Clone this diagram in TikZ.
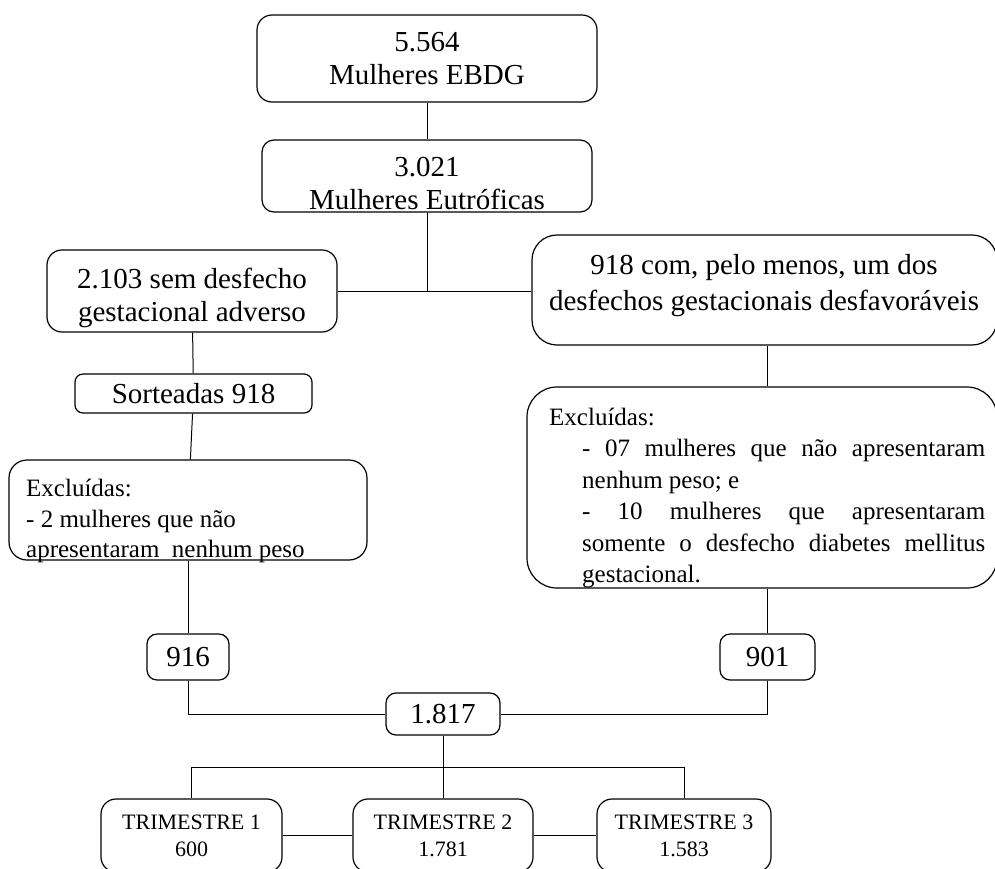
\documentclass[tikz,border=0pt]{standalone}
\usepackage{fontspec}
\setmainfont{Liberation Serif}
\begin{document}
\begin{tikzpicture}[x=1pt, y=-1pt,
    box/.style={draw, line width=1.2pt, rounded corners=12pt, inner sep=0pt, align=center},
    big/.style={font=\fontsize{29}{33}\selectfont},
    small/.style={font=\fontsize{25}{30.5}\selectfont},
    tri/.style={font=\fontsize{22}{27}\selectfont},
    txt/.style={inner sep=0pt},
    link/.style={line width=1pt}]
    \useasboundingbox (0,0) rectangle (995,868);
    % top of the flow
    \node (ebdg) at (427,58.5) [box, big, rounded corners=15pt, minimum width=340pt, minimum height=87pt] {5.564\\Mulheres EBDG};
    \node (eutro) at (427,176) [box, minimum width=330pt, minimum height=72pt] {};
    \node (eutrotxt) at (427,183.7) [txt, big, align=center] {3.021\\Mulheres Eutróficas};
    % left branch
    \node (semdesf) at (192,291) [box, rounded corners=15pt, minimum width=290pt, minimum height=82pt] {};
    \node (semdesftxt) at (192,297.5) [txt, big, align=center] {2.103 sem desfecho\\gestacional adverso};
    \node (sorteio) at (193.5,393.5) [box, big, rounded corners=8pt, minimum width=237pt, minimum height=39pt] {Sorteadas 918};
    \node (exclA) at (188,510) [box, rounded corners=18pt, minimum width=358pt, minimum height=100pt] {};
    \node (exclAtxt) at (26,479) [txt, small, align=left, anchor=north west] {Excluídas:\\- 2 mulheres que não\\apresentaram~ nenhum peso};
    % right branch
    \node (comdesf) at (764.5,290) [box, rounded corners=25pt, minimum width=465pt, minimum height=110pt] {};
    \node (comdesftxt) at (764,285.3) [txt, font=\fontsize{29}{36}\selectfont, align=center] {918 com, pelo menos, um dos\\desfechos gestacionais desfavoráveis};
    \node (exclB) at (762,487.5) [box, rounded corners=30pt, minimum width=470pt, minimum height=201pt] {};
    \node (exclBtxt) at (549,408) [txt, font=\fontsize{25}{31.4}\selectfont, align=left, anchor=north west] {Excluídas:\\
        \hspace*{33pt}\makebox[403pt][s]{- 07 mulheres que não apresentaram}\\
        \hspace*{33pt}nenhum peso; e\\
        \hspace*{33pt}\makebox[403pt][s]{- 10 mulheres que apresentaram}\\
        \hspace*{33pt}\makebox[403pt][s]{somente o desfecho diabetes mellitus}\\
        \hspace*{33pt}gestacional.};
    % totals
    \node (n916) at (188,657) [box, big, rounded corners=10pt, minimum width=82pt, minimum height=46pt] {916};
    \node (n901) at (767.5,657) [box, big, rounded corners=10pt, minimum width=95pt, minimum height=46pt] {901};
    \node (total) at (443,714) [box, big, rounded corners=10pt, minimum width=114pt, minimum height=42pt] {1.817};
    \node (tri1) at (191.5,835.5) [box, tri, rounded corners=15pt, minimum width=181pt, minimum height=73pt] {TRIMESTRE 1\\600};
    \node (tri2) at (443,835.5) [box, tri, rounded corners=15pt, minimum width=180pt, minimum height=73pt] {TRIMESTRE 2\\1.781};
    \node (tri3) at (684,835.5) [box, tri, rounded corners=15pt, minimum width=174pt, minimum height=73pt] {TRIMESTRE 3\\1.583};
    \coordinate (split) at (443,767);
    % connectors
    \draw[link] (ebdg) -- (eutro);
    \draw[link] (eutro.south) -- (eutro.south |- semdesf.east);
    \draw[link] (semdesf.east) -- (semdesf.east -| comdesf.west);
    \draw[link] (semdesf) -- (sorteio);
    \draw[link] (sorteio) -- (exclA);
    \draw[link] (exclA) -- (n916);
    \draw[link] (comdesf.south -| n901.north) -- (exclB.north -| n901.north);
    \draw[link] (exclB.south -| n901.north) -- (n901.north);
    \draw[link] (n916.south) |- (total.west);
    \draw[link] (n901.south) |- (total.east);
    \draw[link] (total) -- (tri2);
    \draw[link] (tri1.north) |- (split) -| (tri3.north);
    \draw[link] (tri1) -- (tri2);
    \draw[link] (tri2) -- (tri3);
\end{tikzpicture}
\end{document}
